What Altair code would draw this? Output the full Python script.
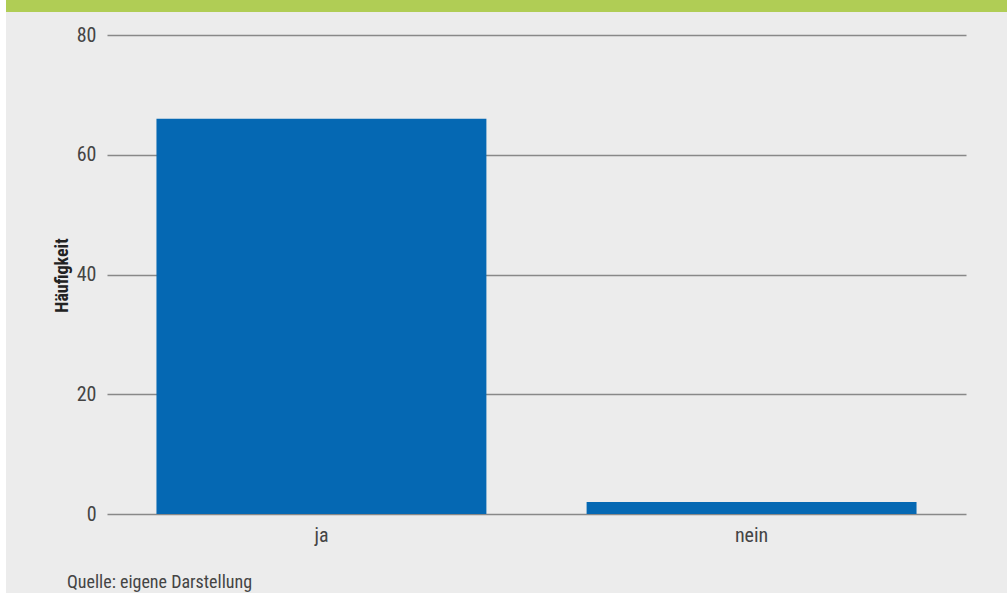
import altair as alt
import pandas as pd

categories = ["ja", "nein"]
counts = [66, 2]
y_ticks = [0, 20, 40, 60, 80]
source_note = "Quelle: eigene Darstellung"
y_title = "Häufigkeit"

df = pd.DataFrame({"Antwort": categories, "Häufigkeit": counts})

FONT = "Liberation Sans Narrow, Roboto Condensed, Roboto, sans-serif"

bars = alt.Chart(df).mark_bar(color="#0568b3").encode(
    x=alt.X("Antwort:N", sort=categories,
            scale=alt.Scale(paddingInner=0.233, paddingOuter=0.115),
            axis=alt.Axis(title=None, labelAngle=0, ticks=False, domain=False,
                          labelFontSize=20, labelColor="#444", labelFont=FONT,
                          labelPadding=11, grid=False)),
    y=alt.Y("Häufigkeit:Q", scale=alt.Scale(domain=[0, 80]),
            axis=alt.Axis(values=y_ticks, title=y_title, domain=False, ticks=False,
                          labelFontSize=20, labelColor="#444", labelFont=FONT,
                          labelPadding=11, gridColor="#888888", gridWidth=1.5,
                          titleFont=FONT, titleFontSize=18, titleFontWeight="bold",
                          titleColor="#222", titleX=-45, titleY=240, titleAngle=270,
                          titleAlign="center", titleBaseline="middle")),
)

band = alt.Chart(df).mark_rect(color="#b0cd55").encode(
    x=alt.value(-101), x2=alt.value(900), y=alt.value(-35), y2=alt.value(-23)
)
left_strip = alt.Chart(df).mark_rect(color="#ffffff").encode(
    x=alt.value(-107), x2=alt.value(-101), y=alt.value(-35), y2=alt.value(562)
)
bottom_strip = alt.Chart(df).mark_rect(color="#ffffff").encode(
    x=alt.value(-107), x2=alt.value(900), y=alt.value(558), y2=alt.value(562)
)
note = alt.Chart(pd.DataFrame({"t": [source_note]})).mark_text(
    align="left", baseline="middle", fontSize=18, color="#444", font=FONT
).encode(text="t:N", x=alt.value(-40), y=alt.value(548))

chart = alt.layer(band, left_strip, bottom_strip, bars, note).properties(
    width=859, height=479,
    background="#ececec",
    padding={"left": 107, "top": 35, "right": 41, "bottom": 83},
    autosize=alt.AutoSizeParams(type="none"),
).configure_view(stroke=None)

chart.save("out.html", embed_options={"renderer": "svg", "actions": False})
